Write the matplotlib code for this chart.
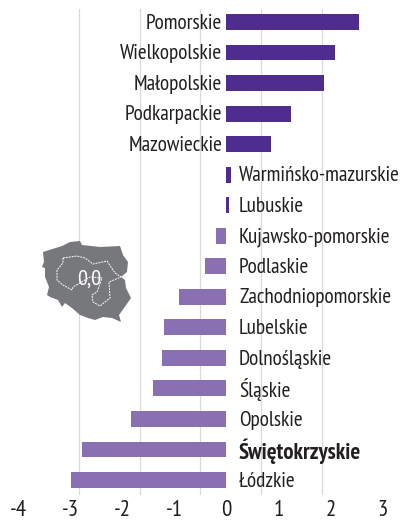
import numpy as np
import matplotlib
matplotlib.use('Agg')
import matplotlib.pyplot as plt

regions = ['Pomorskie', 'Wielkopolskie', 'Małopolskie', 'Podkarpackie', 'Mazowieckie',
           'Warmińsko-mazurskie', 'Lubuskie', 'Kujawsko-pomorskie', 'Podlaskie',
           'Zachodniopomorskie', 'Lubelskie', 'Dolnośląskie', 'Śląskie', 'Opolskie',
           'Świętokrzyskie', 'Łódzkie']
values = [2.54, 2.08, 1.88, 1.24, 0.85, 0.08, 0.04, -0.20, -0.42, -0.92, -1.20,
          -1.25, -1.42, -1.83, -2.77, -3.00]
ticks = [-4, -3, -2, -1, 0, 1, 2, 3]
tick_labels = ['-4', '-3', '-2', '-1', '0', '1', '2', '3']
highlight = 'Świętokrzyskie'

# kontur mapy (piksele z oryginału)
map_outline = [(43, 252), (62, 246), (70, 242), (80, 241), (82, 245), (100, 247), (120, 246),
               (123, 255), (128, 262), (127, 272), (121, 277), (125, 280), (126, 288),
               (131, 298), (124, 308), (119, 315), (121, 322), (112, 318), (103, 317),
               (95, 320), (88, 318), (80, 315), (72, 308), (65, 303), (62, 307), (58, 300),
               (50, 297), (47, 295), (49, 287), (45, 277), (45, 268), (42, 267), (44, 262)]
map_inner = [(63, 258), (77, 256), (85, 258), (93, 264), (107, 261), (115, 273), (121, 277),
             (109, 282), (110, 298), (100, 306), (93, 302), (92, 295), (97, 292), (102, 278),
             (90, 277), (80, 283), (73, 287), (72, 290), (63, 285), (57, 280), (57, 270),
             (63, 263), (63, 258)]

plt.rcParams['font.family'] = ['PT Sans Narrow', 'Fira Sans Condensed', 'Liberation Sans', 'DejaVu Sans']

W, H = 406, 521
fig = plt.figure(figsize=(W / 100, H / 100), dpi=100)
ax = fig.add_axes([0, (H - 495) / H, 402 / W, (495 - 9) / H])

dark = '#4f2d8f'
light = '#8870b3'
text_col = '#231f20'

y = np.arange(len(regions))
colors = [dark if v > 0 else light for v in values]
ax.barh(y, values, height=0.52, color=colors, zorder=3)

ax.set_xlim(-226.5 / 52, (402 - 226.5) / 52)
ax.set_ylim(15.49, -0.426)

# linie siatki nie pokrywają się z podpisami osi
ax.set_xticks(np.linspace(-4, 3, 7), minor=True)
ax.grid(True, axis='x', which='minor', color='#d9d9d9', lw=0.9, zorder=0)
ax.grid(False, axis='x', which='major')
ax.tick_params(axis='x', which='both', length=0)
ax.set_xticks(ticks)
ax.set_xticklabels(tick_labels, fontsize=16.5, color=text_col)
ax.tick_params(axis='x', which='major', pad=3.5)
ax.set_yticks([])
for s in ax.spines.values():
    s.set_visible(False)

for i, (name, v) in enumerate(zip(regions, values)):
    right_side = v < 0.5
    bold = name == highlight
    ax.annotate(name, (0, i), xytext=(9 if right_side else -3, 0.6), textcoords='offset points',
                ha='left' if right_side else 'right', va='center_baseline',
                fontsize=16.5 if bold else 15.3, color=text_col,
                fontweight='bold' if bold else 'normal',
                annotation_clip=False, clip_on=True, zorder=4)

# mapa Polski
mp = fig.add_axes([0, 0, 1, 1], facecolor='none')
mp.set_xlim(0, W)
mp.set_ylim(H, 0)
mp.axis('off')
mp.fill(*zip(*map_outline), color='#77787b', lw=0, zorder=5)
mp.plot(*zip(*map_inner), color='white', lw=0.7, ls=(0, (2, 1)), zorder=6)
mp.text(89, 279.5, '0,0', color='white', fontsize=16, ha='center', va='center', zorder=7)

fig.savefig('out.png', dpi=100)
